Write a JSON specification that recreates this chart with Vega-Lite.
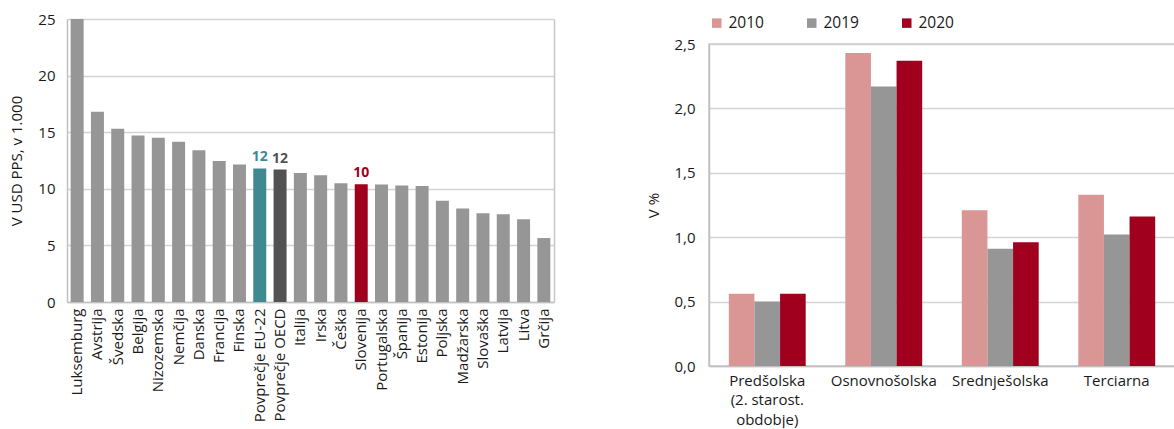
{
  "$schema": "https://vega.github.io/schema/vega-lite/v6.json",
  "background": "white",
  "padding": {"left": 9, "top": 12, "right": 0, "bottom": 0},
  "config": {
    "font": "Open Sans",
    "view": {"stroke": "#c8c8c8", "strokeWidth": 1.5},
    "axis": {
      "gridColor": "#d4d4d4",
      "gridWidth": 1.5,
      "domainColor": "#c0c0c0",
      "domainWidth": 1.5,
      "ticks": false,
      "labelColor": "#1a1a1a",
      "titleColor": "#1a1a1a",
      "labelFontSize": 15,
      "titleFontSize": 15,
      "titleFontWeight": "normal"
    },
    "concat": {"spacing": 92}
  },
  "spacing": 92,
  "resolve": {"scale": {"color": "independent"}, "legend": {"color": "independent"}},
  "hconcat": [
    {
      "width": 487,
      "height": 258,
      "view": {"stroke": null},
      "data": {
        "values": [
          {"country": "Luksemburg", "value": 25.0, "grp": "other", "label": ""},
          {"country": "Avstrija", "value": 16.8, "grp": "other", "label": ""},
          {"country": "Švedska", "value": 15.3, "grp": "other", "label": ""},
          {"country": "Belgija", "value": 14.7, "grp": "other", "label": ""},
          {"country": "Nizozemska", "value": 14.5, "grp": "other", "label": ""},
          {"country": "Nemčija", "value": 14.15, "grp": "other", "label": ""},
          {"country": "Danska", "value": 13.4, "grp": "other", "label": ""},
          {"country": "Francija", "value": 12.45, "grp": "other", "label": ""},
          {"country": "Finska", "value": 12.15, "grp": "other", "label": ""},
          {"country": "Povprečje EU-22", "value": 11.8, "grp": "eu", "label": "12"},
          {"country": "Povprečje OECD", "value": 11.7, "grp": "oecd", "label": "12"},
          {"country": "Italija", "value": 11.4, "grp": "other", "label": ""},
          {"country": "Irska", "value": 11.2, "grp": "other", "label": ""},
          {"country": "Češka", "value": 10.5, "grp": "other", "label": ""},
          {"country": "Slovenija", "value": 10.4, "grp": "si", "label": "10"},
          {"country": "Portugalska", "value": 10.38, "grp": "other", "label": ""},
          {"country": "Španija", "value": 10.3, "grp": "other", "label": ""},
          {"country": "Estonija", "value": 10.25, "grp": "other", "label": ""},
          {"country": "Poljska", "value": 8.95, "grp": "other", "label": ""},
          {"country": "Madžarska", "value": 8.25, "grp": "other", "label": ""},
          {"country": "Slovaška", "value": 7.85, "grp": "other", "label": ""},
          {"country": "Latvija", "value": 7.75, "grp": "other", "label": ""},
          {"country": "Litva", "value": 7.3, "grp": "other", "label": ""},
          {"country": "Grčija", "value": 5.65, "grp": "other", "label": ""}
        ]
      },
      "encoding": {
        "x": {
          "field": "country",
          "type": "nominal",
          "sort": null,
          "scale": {"paddingInner": 0.36, "paddingOuter": 0.18},
          "axis": {"title": null, "labelAngle": -90, "labelPadding": 6}
        },
        "color": {
          "field": "grp",
          "type": "nominal",
          "scale": {
            "domain": ["other", "eu", "oecd", "si"],
            "range": ["#969696", "#3E8A90", "#525252", "#A0001E"]
          },
          "legend": null
        }
      },
      "layer": [
        {
          "mark": {"type": "bar"},
          "encoding": {
            "y": {
              "field": "value",
              "type": "quantitative",
              "scale": {"domain": [0, 25], "range": [258, -25], "nice": false, "zero": true},
              "axis": {
                "title": "V USD PPS, v 1.000",
                "values": [0, 5, 10, 15, 20, 25],
                "labelPadding": 12,
                "titlePadding": 13
              }
            }
          }
        },
        {
          "transform": [{"filter": "datum.label != ''"}],
          "mark": {"type": "text", "dy": -11, "fontWeight": "bold", "fontSize": 14},
          "encoding": {
            "y": {
              "field": "value",
              "type": "quantitative",
              "scale": {"domain": [0, 25], "range": [258, -25], "nice": false, "zero": true},
              "axis": {"orient": "right", "labels": false, "grid": false, "title": null, "ticks": false, "domainColor": "#c8c8c8", "values": [0, 25]}
            },
            "text": {"field": "label"}
          }
        }
      ],
      "resolve": {"axis": {"y": "independent"}}
    },
    {
      "width": 466,
      "height": 322,
      "data": {
        "values": [
          {"level": "Predšolska|(2. starost.|obdobje)", "year": "2010", "value": 0.56},
          {"level": "Predšolska|(2. starost.|obdobje)", "year": "2019", "value": 0.5},
          {"level": "Predšolska|(2. starost.|obdobje)", "year": "2020", "value": 0.56},
          {"level": "Osnovnošolska", "year": "2010", "value": 2.43},
          {"level": "Osnovnošolska", "year": "2019", "value": 2.17},
          {"level": "Osnovnošolska", "year": "2020", "value": 2.37},
          {"level": "Srednješolska", "year": "2010", "value": 1.21},
          {"level": "Srednješolska", "year": "2019", "value": 0.91},
          {"level": "Srednješolska", "year": "2020", "value": 0.96},
          {"level": "Terciarna", "year": "2010", "value": 1.33},
          {"level": "Terciarna", "year": "2019", "value": 1.02},
          {"level": "Terciarna", "year": "2020", "value": 1.16}
        ]
      },
      "mark": {"type": "bar"},
      "encoding": {
        "x": {
          "field": "level",
          "type": "nominal",
          "sort": null,
          "scale": {"paddingInner": 0.34, "paddingOuter": 0.17},
          "axis": {
            "title": null,
            "labelAngle": 0,
            "labelExpr": "split(datum.label, '|')",
            "labelFontSize": 15,
            "labelLineHeight": 19.5,
            "labelPadding": 7,
            "labelBaseline": "top"
          }
        },
        "xOffset": {"field": "year", "type": "nominal"},
        "y": {
          "field": "value",
          "type": "quantitative",
          "scale": {"domain": [0, 2.5]},
          "axis": {
            "title": "V %",
            "values": [0, 0.5, 1, 1.5, 2, 2.5],
            "labelExpr": "replace(format(datum.value, '.1f'), '.', ',')",
            "labelFontSize": 15,
            "labelPadding": 14,
            "titlePadding": 12
          }
        },
        "color": {
          "field": "year",
          "type": "nominal",
          "scale": {"domain": ["2010", "2019", "2020"], "range": ["#D99694", "#969696", "#A0001E"]},
          "legend": {
            "orient": "top",
            "title": null,
            "direction": "horizontal",
            "symbolType": "square",
            "symbolSize": 90,
            "symbolStrokeWidth": 0,
            "labelFontSize": 15.5,
            "labelColor": "#1a1a1a",
            "columnPadding": 40,
            "offset": 12
          }
        }
      }
    }
  ]
}
